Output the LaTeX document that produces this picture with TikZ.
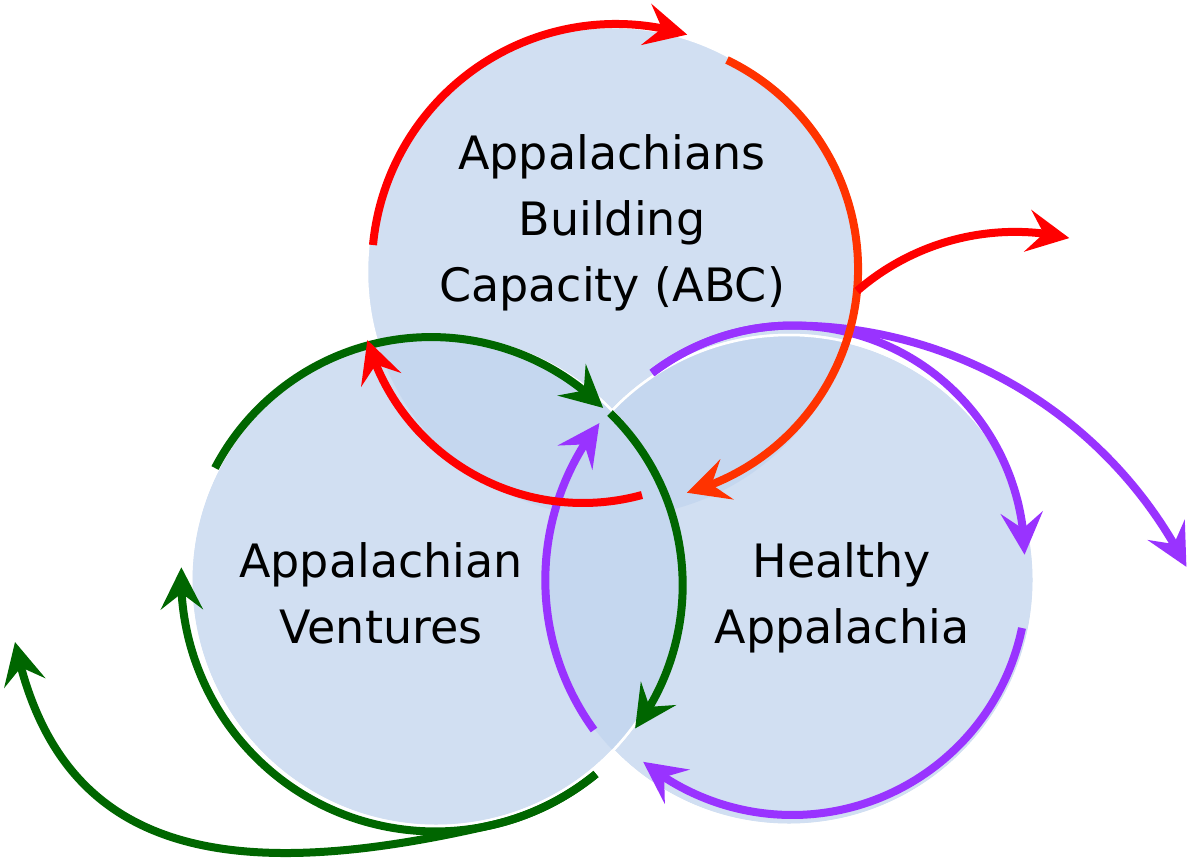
\documentclass[tikz,border=0pt]{standalone}
\usepackage{fontspec}
\setmainfont{DejaVu Sans}
\usetikzlibrary{arrows.meta,bending}

\definecolor{ringblue}{RGB}{209,223,242}
\definecolor{lapblue}{RGB}{197,215,239}
\definecolor{abcred}{RGB}{255,0,0}
\definecolor{abcorange}{RGB}{255,51,0}
\definecolor{avgreen}{RGB}{0,102,0}
\definecolor{hapurple}{RGB}{153,51,255}

\begin{document}
\begin{tikzpicture}
  [x=1pt,y=-1pt,>={Stealth[length=42pt,width=42pt,inset=16pt]},
   ring/.style={circle,draw=white,line width=2.5pt,fill=ringblue,
                minimum size=490pt,inner sep=0pt},
   lap/.style={fill=lapblue},
   rim/.style={draw=white,line width=2.5pt},
   name text/.style={align=center,font=\fontsize{46}{66}\selectfont},
   flow/.style={->,line width=8pt},
   red flow/.style={flow,draw=abcred},
   orange flow/.style={flow,draw=abcorange},
   green flow/.style={flow,draw=avgreen},
   purple flow/.style={flow,draw=hapurple}]

  \useasboundingbox (0,0) rectangle (1188,862);

  % the three circles, overlaps a shade darker
  \node [ring] (abc)     at (612,272) {};
  \node [ring] (healthy) at (789,580) {};
  \begin{scope}
    \clip (abc.center) circle [radius=245];
    \fill [lap] (healthy.center) circle [radius=245];
  \end{scope}
  \draw [rim] (healthy.center) circle [radius=245];
  \node [ring] (ventures) at (436,581) {};
  \begin{scope}
    \clip (ventures.center) circle [radius=245];
    \fill [lap] (abc.center) circle [radius=245];
    \fill [lap] (healthy.center) circle [radius=245];
  \end{scope}
  \draw [rim] (ventures.center) circle [radius=245];

  \node [name text] (abcText)      at (612,223) {Appalachians\\Building\\Capacity (ABC)};
  \node [name text] (venturesText) at (381,593) {Appalachian\\Ventures};
  \node [name text] (healthyText)  at (842,598) {Healthy\\Appalachia};

  % start points of the arrows
  \coordinate (r1) at (373,245);
  \coordinate (r2) at (727,60);
  \coordinate (r3) at (642,495);
  \coordinate (r4) at (857,291);
  \coordinate (g1) at (215,468);
  \coordinate (g2) at (610,413);
  \coordinate (g3) at (596,774);
  \coordinate (g4) at (15,642);
  \coordinate (p1) at (652,373);
  \coordinate (p3) at (1022,628);
  \coordinate (p4) at (594,730);

  % Appalachian Ventures
  \draw [green flow] (g1) arc [start angle=-152.4,end angle=-45.2,radius=244];
  \draw [green flow] (g2) arc [start angle=-45.8,end angle=36.7,radius=240];
  \draw [green flow] (g3) arc [start angle=50.7,end angle=182.3,radius=254];
  \draw [green flow] (g3) arc [start angle=50.7,end angle=78,radius=254]
    .. controls (210,890) and (57,845) .. (g4);

  % Healthy Appalachia
  \draw [purple flow] (p1) arc [start angle=-127.3,end angle=-0.7,radius=232];
  \draw [purple flow] (p1) arc [start angle=-127.3,end angle=-90,radius=232]
    arc [start angle=-90,end angle=-27,radius=442];
  \draw [purple flow] (p3) arc [start angle=11.8,end angle=129.3,radius=235];
  \draw [purple flow] (p4) arc [start angle=-216,end angle=-142,radius=255];

  % Appalachians Building Capacity
  \draw [red flow] (r1) arc [start angle=-174.6,end angle=-73,radius=244];
  \draw [orange flow] (r2) arc [start angle=-64.2,end angle=74.8,radius=232];
  \draw [red flow] (r3) arc [start angle=74.7,end angle=164.2,radius=224];
  \draw [red flow] (r4) arc [start angle=-131,end angle=-77,radius=241];

\end{tikzpicture}
\end{document}
